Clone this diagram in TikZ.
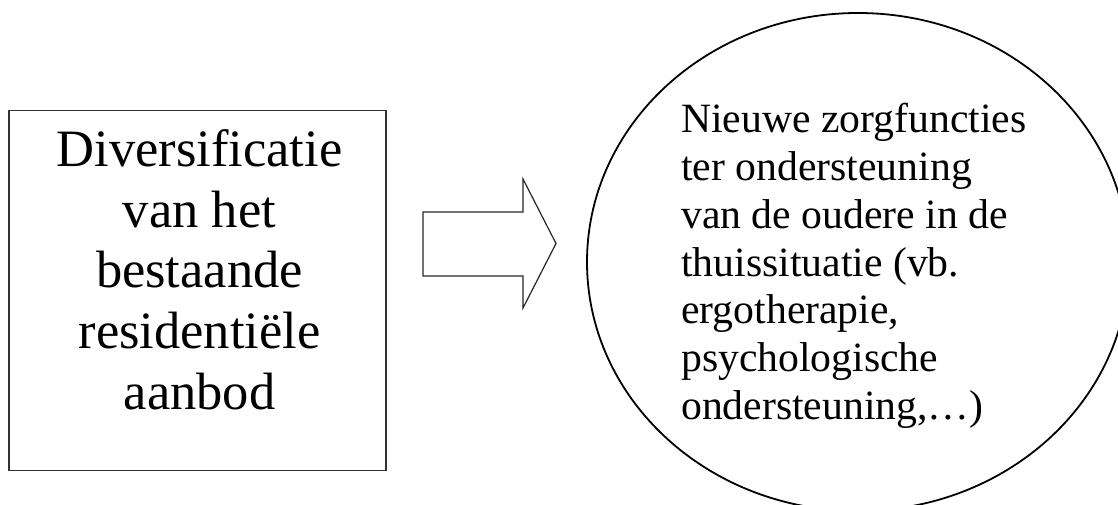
\documentclass[tikz,border=0pt]{standalone}
\usepackage{fontspec}
\setmainfont{Liberation Serif}
\usetikzlibrary{shapes.geometric}
\begin{document}
\begin{tikzpicture}[x=1pt,y=-1pt,
  boxline/.style={draw=black!80,line width=1.2pt},
  arrowline/.style={draw=black!85,line width=1.2pt,line join=miter},
  ovalline/.style={draw=black,line width=1.8pt},
  bigtext/.style={inner sep=0pt,font=\fontsize{52.5}{60.6}\selectfont},
  smalltext/.style={inner sep=0pt,font=\fontsize{41.7}{47.8}\selectfont}]
\useasboundingbox (0,0) rectangle (1118,505);
\clip (0,0) rectangle (1118,505);
\fill[white] (0,0) rectangle (1118,505);
% left box
\node[boxline,rectangle,minimum width=377pt,minimum height=360pt,inner sep=0pt] (box) at (197.5,290.8) {};
\node[bigtext,anchor=base] (boxtext) at (199.5,166.6)
  {\begin{tabular}[t]{@{}c@{}}Diversificatie\\van het\\bestaande\\residentiële\\aanbod\end{tabular}};
% block arrow
\coordinate (tail) at (423,243.5);
\coordinate (tip) at (556,243.5);
\draw[arrowline] (423,212) -- (523,212) -- (523,179) -- (tip) -- (523,308) -- (523,276) -- (423,276) -- cycle;
% ellipse
\node[ovalline,ellipse,minimum width=542pt,minimum height=498pt,inner sep=0pt] (oval) at (858,262) {};
\node[smalltext,anchor=base west] (ovaltext) at (681,132.7)
  {\begin{tabular}[t]{@{}l@{}}Nieuwe zorgfuncties\\ter ondersteuning\\van de oudere in de\\thuissituatie (vb.\\ergotherapie,\\psychologische\\ondersteuning,…)\end{tabular}};
\end{tikzpicture}
\end{document}
